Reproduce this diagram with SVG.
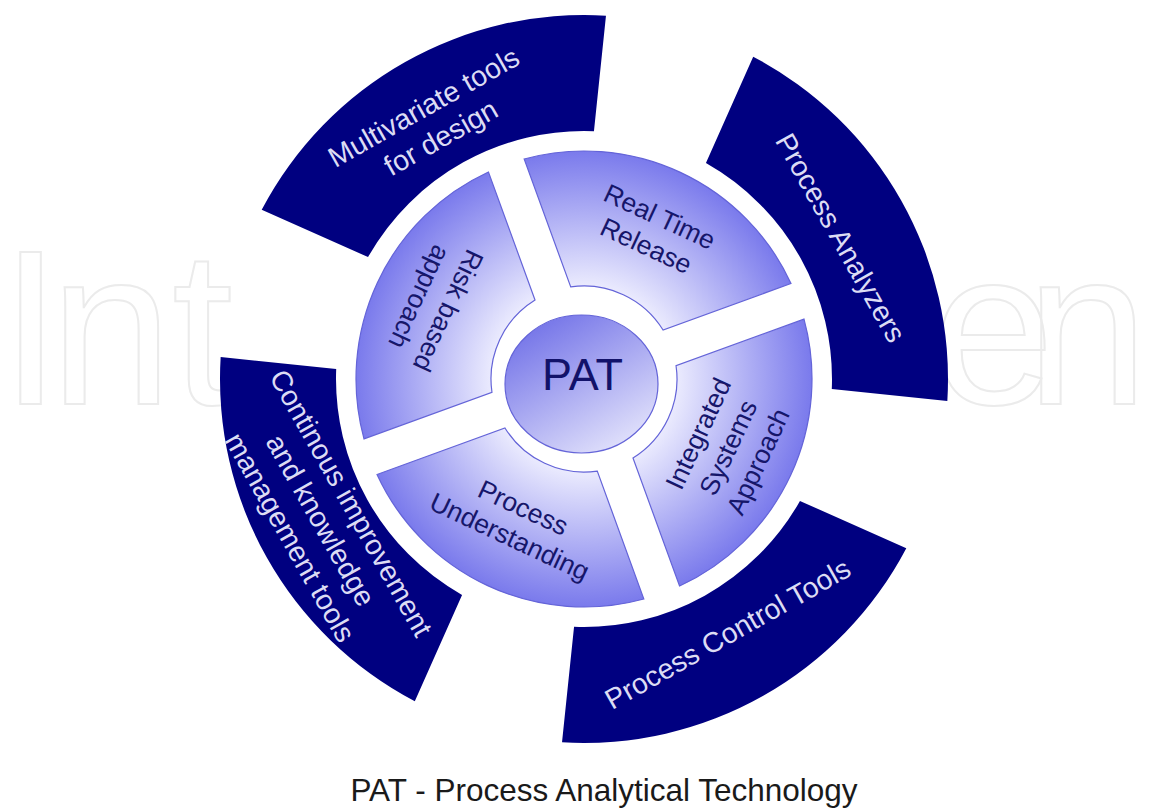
<svg xmlns="http://www.w3.org/2000/svg" xmlns:xlink="http://www.w3.org/1999/xlink" width="1150" height="810" viewBox="0 0 1150 810">
  <style>
    .wm { font-family: "Liberation Sans", Arial, sans-serif; font-size: 220px; fill: none; stroke: #ebebeb; stroke-width: 2; }
    .outer { fill: #000080; }
    .inner { fill: url(#gIn); stroke: #6464d8; stroke-width: 1.2; }
    .otxt { font-family: "Liberation Sans", Arial, sans-serif; font-size: 28.5px; fill: #dcdcf4; text-anchor: middle; }
    .itxt { font-family: "Liberation Sans", Arial, sans-serif; font-size: 26.5px; fill: #16166a; text-anchor: middle; }
    .pat { font-family: "Liberation Sans", Arial, sans-serif; font-size: 45px; fill: #12126a; text-anchor: middle; }
    .cap { font-family: "Liberation Sans", Arial, sans-serif; font-size: 31.5px; fill: #1a1a1a; text-anchor: middle; }
  </style>
  <defs>
    <radialGradient id="gIn" gradientUnits="userSpaceOnUse" cx="0" cy="0" r="228">
      <stop offset="0.4" stop-color="#ececfe"/>
      <stop offset="1" stop-color="#7a7aec"/>
    </radialGradient>
    <linearGradient id="gPat" x1="0.2" y1="0.05" x2="0.8" y2="0.95">
      <stop offset="0" stop-color="#7474e8"/>
      <stop offset="1" stop-color="#e2e2fb"/>
    </linearGradient>
    <path id="segIn" d="M -59.85 -220.0 A 228 228 0 0 1 207.0 -95.55 L 79.05 -48.99 A 93 93 0 0 0 -13.28 -92.05 Z"/>
    <path id="segOut" d="M 322.3 169.2 A 364 364 0 0 1 -21.97 363.34 L -9.95 247.8 A 248 248 0 0 0 215.96 121.94 Z"/>
  </defs>
  <rect width="1150" height="810" fill="#ffffff"/>
  <g id="watermark">
    <text class="wm" x="0 50 172" y="404">Int</text>
    <text class="wm" x="932 1026" y="404">en</text>
  </g>
  <g transform="translate(584,379)">
    <g id="multivariate-tools">
      <use xlink:href="#segOut" class="outer" transform="rotate(180)"/>
      <text class="otxt" transform="translate(-152,-257) rotate(-29.4)"><tspan x="0" y="-7.3">Multivariate tools</tspan><tspan x="0" y="27.7">for design</tspan></text>
    </g>
    <g id="process-analyzers">
      <use xlink:href="#segOut" class="outer" transform="rotate(270)"/>
      <text class="otxt" transform="translate(257,-141.5) rotate(60.6)"><tspan x="0" y="10.2">Process Analyzers</tspan></text>
    </g>
    <g id="process-control-tools">
      <use xlink:href="#segOut" class="outer"/>
      <text class="otxt" transform="translate(143.5,254.5) rotate(-29.4)"><tspan x="0" y="10.2">Process Control Tools</tspan></text>
    </g>
    <g id="continous-improvement">
      <use xlink:href="#segOut" class="outer" transform="rotate(90)"/>
      <text class="otxt" transform="translate(-263,141) rotate(60.6)"><tspan x="0" y="-24.8">Continous improvement</tspan><tspan x="0" y="10.2">and knowledge</tspan><tspan x="0" y="45.2">management tools</tspan></text>
    </g>
    <g id="real-time-release">
      <use xlink:href="#segIn" class="inner"/>
      <text class="itxt" transform="translate(69,-148) rotate(25)"><tspan x="0" y="-6.7">Real Time</tspan><tspan x="0" y="25.3">Release</tspan></text>
    </g>
    <g id="integrated-systems-approach">
      <use xlink:href="#segIn" class="inner" transform="rotate(90)"/>
      <text class="itxt" transform="translate(144,68.5) rotate(-65)"><tspan x="0" y="-23.7">Integrated</tspan><tspan x="0" y="9.3">Systems</tspan><tspan x="0" y="42.3">Approach</tspan></text>
    </g>
    <g id="process-understanding">
      <use xlink:href="#segIn" class="inner" transform="rotate(180)"/>
      <text class="itxt" transform="translate(-67.5,143) rotate(25)"><tspan x="0" y="-6.7">Process</tspan><tspan x="0" y="25.3">Understanding</tspan></text>
    </g>
    <g id="risk-based-approach">
      <use xlink:href="#segIn" class="inner" transform="rotate(270)"/>
      <text class="itxt" transform="translate(-150,-75) rotate(115)"><tspan x="0" y="-6.7">Risk based</tspan><tspan x="0" y="25.3">approach</tspan></text>
    </g>
    <g id="pat">
      <ellipse cx="-2.5" cy="5" rx="76.5" ry="69" fill="url(#gPat)" stroke="#6464d8" stroke-width="1.2"/>
      <text class="pat" x="-1.5" y="11">PAT</text>
    </g>
  </g>
  <g id="connectors"/>
  <text id="caption" class="cap" x="604" y="801">PAT - Process Analytical Technology</text>
</svg>
